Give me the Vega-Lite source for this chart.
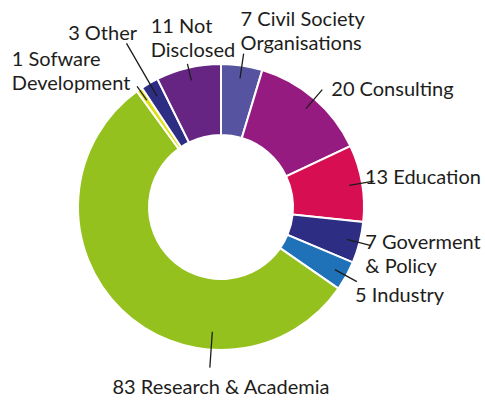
{
  "$schema": "https://vega.github.io/schema/vega-lite/v6.json",
  "width": 442,
  "height": 380,
  "autosize": {"type": "none"},
  "padding": {"left": 0, "top": 17, "right": 43, "bottom": 4},
  "background": "white",
  "config": {
    "view": {"stroke": null},
    "text": {"font": "Lato", "fontSize": 20, "color": "#1d1d1b", "lineBreak": "\n", "lineHeight": 24, "baseline": "middle"}
  },
  "data": {
    "values": [
      {"order": 1, "category": "Civil Society Organisations", "value": 7, "label": "7 Civil Society\nOrganisations"},
      {"order": 2, "category": "Consulting", "value": 20, "label": "20 Consulting"},
      {"order": 3, "category": "Education", "value": 13, "label": "13 Education"},
      {"order": 4, "category": "Goverment & Policy", "value": 7, "label": "7 Goverment\n& Policy"},
      {"order": 5, "category": "Industry", "value": 5, "label": "5 Industry"},
      {"order": 6, "category": "Research & Academia", "value": 83, "label": "83 Research & Academia"},
      {"order": 7, "category": "Sofware Development", "value": 1, "label": "1 Sofware\nDevelopment"},
      {"order": 8, "category": "Other", "value": 3, "label": "3 Other"},
      {"order": 9, "category": "Not Disclosed", "value": 11, "label": "11 Not\nDisclosed"}
    ]
  },
  "layer": [
    {
      "mark": {"type": "arc", "innerRadius": 72, "outerRadius": 143, "stroke": "white", "strokeWidth": 2},
      "encoding": {
        "theta": {"field": "value", "type": "quantitative", "stack": true},
        "order": {"field": "order", "type": "quantitative"},
        "color": {
          "field": "category", "type": "nominal", "legend": null,
          "scale": {
            "domain": ["Civil Society Organisations", "Consulting", "Education", "Goverment & Policy", "Industry", "Research & Academia", "Sofware Development", "Other", "Not Disclosed"],
            "range": ["#5654a0", "#951b80", "#d70f52", "#2d2e83", "#1f71b8", "#95c11f", "#e0df17", "#2d2e83", "#662483"]
          }
        }
      }
    },
    {
      "mark": {"type": "arc", "radius": 155, "radius2": 130, "padAngle": 3.14, "fill": "transparent", "stroke": "#1d1d1b", "strokeWidth": 1.3},
      "encoding": {
        "theta": {"field": "value", "type": "quantitative", "stack": true},
        "order": {"field": "order", "type": "quantitative"},
        "detail": {"field": "category", "type": "nominal"},
        "strokeOpacity": {"condition": {"test": "indexof(['Civil Society Organisations','Consulting','Education','Goverment & Policy','Industry'], datum.category) >= 0", "value": 1}, "value": 0}
      }
    },
    {
      "mark": {"type": "arc", "radius": 147, "radius2": 130, "padAngle": 3.14, "fill": "transparent", "stroke": "#1d1d1b", "strokeWidth": 1.3},
      "encoding": {
        "theta": {"field": "value", "type": "quantitative", "stack": true},
        "order": {"field": "order", "type": "quantitative"},
        "detail": {"field": "category", "type": "nominal"},
        "strokeOpacity": {"condition": {"test": "indexof(['Sofware Development','Not Disclosed'], datum.category) >= 0", "value": 1}, "value": 0}
      }
    },
    {
      "mark": {"type": "arc", "radius": 189, "radius2": 128, "padAngle": 3.14, "fill": "transparent", "stroke": "#1d1d1b", "strokeWidth": 1.3},
      "encoding": {
        "theta": {"field": "value", "type": "quantitative", "stack": true},
        "order": {"field": "order", "type": "quantitative"},
        "detail": {"field": "category", "type": "nominal"},
        "strokeOpacity": {"condition": {"test": "datum.category === 'Other'", "value": 1}, "value": 0}
      }
    },
    {
      "transform": [{"filter": "datum.category === 'Research & Academia'"}],
      "mark": {"type": "arc", "theta": 3.211, "theta2": 3.211, "radius": 161, "radius2": 125, "fill": "transparent", "stroke": "#1d1d1b", "strokeWidth": 1.3},
      "encoding": {}
    },
    {
      "mark": {"type": "text", "radius": 189, "align": "left", "dx": -8},
      "encoding": {
        "theta": {"field": "value", "type": "quantitative", "stack": true},
        "order": {"field": "order", "type": "quantitative"},
        "detail": {"field": "category", "type": "nominal"},
        "text": {"field": "label", "type": "nominal", "condition": {"test": "datum.category !== 'Civil Society Organisations'", "value": ""}}
      }
    },
    {
      "mark": {"type": "text", "radius": 155, "align": "left", "dx": 9},
      "encoding": {
        "theta": {"field": "value", "type": "quantitative", "stack": true},
        "order": {"field": "order", "type": "quantitative"},
        "detail": {"field": "category", "type": "nominal"},
        "text": {"field": "label", "type": "nominal", "condition": {"test": "datum.category !== 'Consulting'", "value": ""}}
      }
    },
    {
      "mark": {"type": "text", "radius": 146, "align": "left", "dy": -5},
      "encoding": {
        "theta": {"field": "value", "type": "quantitative", "stack": true},
        "order": {"field": "order", "type": "quantitative"},
        "detail": {"field": "category", "type": "nominal"},
        "text": {"field": "label", "type": "nominal", "condition": {"test": "datum.category !== 'Education'", "value": ""}}
      }
    },
    {
      "mark": {"type": "text", "radius": 149, "align": "left", "dy": -1},
      "encoding": {
        "theta": {"field": "value", "type": "quantitative", "stack": true},
        "order": {"field": "order", "type": "quantitative"},
        "detail": {"field": "category", "type": "nominal"},
        "text": {"field": "label", "type": "nominal", "condition": {"test": "datum.category !== 'Goverment & Policy'", "value": ""}}
      }
    },
    {
      "mark": {"type": "text", "radius": 153, "align": "left", "dy": 15},
      "encoding": {
        "theta": {"field": "value", "type": "quantitative", "stack": true},
        "order": {"field": "order", "type": "quantitative"},
        "detail": {"field": "category", "type": "nominal"},
        "text": {"field": "label", "type": "nominal", "condition": {"test": "datum.category !== 'Industry'", "value": ""}}
      }
    },
    {
      "mark": {"type": "text", "radius": 0, "align": "center", "dy": 181},
      "encoding": {
        "theta": {"field": "value", "type": "quantitative", "stack": true},
        "order": {"field": "order", "type": "quantitative"},
        "detail": {"field": "category", "type": "nominal"},
        "text": {"field": "label", "type": "nominal", "condition": {"test": "datum.category !== 'Research & Academia'", "value": ""}}
      }
    },
    {
      "mark": {"type": "text", "radius": 179, "align": "left", "dx": -107},
      "encoding": {
        "theta": {"field": "value", "type": "quantitative", "stack": true},
        "order": {"field": "order", "type": "quantitative"},
        "detail": {"field": "category", "type": "nominal"},
        "text": {"field": "label", "type": "nominal", "condition": {"test": "datum.category !== 'Sofware Development'", "value": ""}}
      }
    },
    {
      "mark": {"type": "text", "radius": 200, "align": "right", "dx": 16},
      "encoding": {
        "theta": {"field": "value", "type": "quantitative", "stack": true},
        "order": {"field": "order", "type": "quantitative"},
        "detail": {"field": "category", "type": "nominal"},
        "text": {"field": "label", "type": "nominal", "condition": {"test": "datum.category !== 'Other'", "value": ""}}
      }
    },
    {
      "mark": {"type": "text", "radius": 185, "align": "left", "dx": -28},
      "encoding": {
        "theta": {"field": "value", "type": "quantitative", "stack": true},
        "order": {"field": "order", "type": "quantitative"},
        "detail": {"field": "category", "type": "nominal"},
        "text": {"field": "label", "type": "nominal", "condition": {"test": "datum.category !== 'Not Disclosed'", "value": ""}}
      }
    }
  ]
}
